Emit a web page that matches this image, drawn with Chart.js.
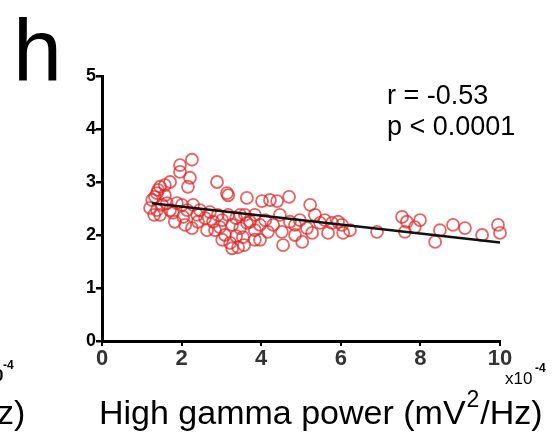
<!DOCTYPE html>
<html><head><meta charset="utf-8">
<script src="https://cdn.jsdelivr.net/npm/chart.js@4.4.1/dist/chart.umd.min.js"></script>
<style>html,body{margin:0;padding:0;background:#fff;}#wrap{width:557px;height:438px;}</style>
</head><body><div id="wrap"><canvas id="c" width="557" height="438"></canvas></div>
<script>
// High gamma power (x10^-4 mV^2/Hz)
const powerX = [1.26,1.33,1.38,1.46,1.38,1.51,1.63,1.71,1.78,1.88,1.96,1.96,2.26,2.21,2.16,2.04,2.29,2.39,2.26,2.89,3.14,3.17,2.64,2.79,2.96,3.09,3.22,3.27,3.42,3.54,3.64,4.02,4.22,4.40,4.70,5.23,3.64,3.84,3.97,4.30,4.52,4.55,4.85,5.03,5.15,5.28,5.48,5.68,5.78,6.03,6.06,6.91,7.54,7.66,7.86,7.99,7.61,8.49,8.37,8.82,9.12,9.55,9.95,10.0,1.21,1.31,1.58,1.71,2.01,2.14,2.46,2.59,2.71,2.91,3.02,3.17,3.27,3.37,3.47,3.59,3.72,3.84,4.10,4.17,4.72,4.85,4.97,3.37,3.02,2.84,2.41,1.46,1.83,2.09,1.58,1.41,3.47,3.97,4.47,3.84,3.57,5.35,6.23,5.93,5.60];
// Y values
const valueY = [2.66,2.72,2.79,2.91,2.47,2.57,2.60,3.00,2.42,2.60,3.32,3.19,3.42,3.08,2.91,2.34,2.57,2.38,2.13,3.00,2.79,2.75,2.09,2.25,2.15,2.00,1.85,1.75,1.77,1.96,2.70,2.64,2.66,2.64,2.72,2.57,2.23,2.09,1.91,2.19,2.06,1.81,2.00,1.87,2.13,2.04,2.23,2.04,2.23,2.19,2.04,2.06,2.34,2.25,2.15,2.28,2.06,2.09,1.87,2.19,2.13,2.00,2.19,2.04,2.51,2.38,2.75,2.47,2.57,2.47,2.47,2.32,2.43,2.38,2.28,2.38,2.19,2.32,2.13,2.38,2.25,2.38,2.28,2.06,2.25,2.19,2.28,1.98,1.91,2.09,2.25,2.38,2.25,2.19,2.94,2.85,2.38,2.19,2.38,1.91,1.81,2.38,2.09,2.25,2.28];
// Regression line endpoints
const fitX = [1.25, 10.0];
const fitY = [2.60, 1.86];
const xTicks = [0, 2, 4, 6, 8, 10];
const yTicks = [0, 1, 2, 3, 4, 5];
const statR = "r = -0.53";
const statP = "p < 0.0001";
const panelLabel = "h";

const pts = powerX.map((x, i) => ({x: x, y: valueY[i]}));
const fit = fitX.map((x, i) => ({x: x, y: fitY[i]}));
const FF = '"Liberation Sans", Arial, sans-serif';

const textPlugin = {
  id: 'texts',
  afterDraw(chart) {
    const ctx = chart.ctx;
    const xs = chart.scales.x;
    ctx.save();
    ctx.fillStyle = '#000';
    ctx.textBaseline = 'alphabetic';
    ctx.textAlign = 'left';
    // panel letter
    ctx.font = '88px ' + FF;
    ctx.fillText(panelLabel, 13, 80);
    // stats
    ctx.font = '27px ' + FF;
    ctx.fillText(statR, 387, 104);
    ctx.fillText(statP, 387, 135);
    // x10^-4
    const xr = xs.right;
    ctx.font = '17px ' + FF;
    ctx.fillText('x10', xr + 5, 384);
    ctx.font = 'bold 12px ' + FF;
    ctx.fillText('-4', xr + 35, 372);
    // x-axis title with superscript
    ctx.font = '34px ' + FF;
    let x0 = 99, yb = 424;
    const part1 = 'High gamma power (mV';
    ctx.fillText(part1, x0, yb);
    let w = ctx.measureText(part1).width;
    ctx.font = '23px ' + FF;
    ctx.fillText('2', x0 + w + 1, yb - 17);
    let w2 = ctx.measureText('2').width;
    ctx.font = '34px ' + FF;
    ctx.fillText('/Hz)', x0 + w + w2 + 2, yb);
    // fragments of neighbouring panel
    ctx.font = 'bold 17px ' + FF;
    ctx.fillText('0', -6, 381);
    ctx.font = 'bold 12px ' + FF;
    ctx.fillText('-4', 3, 369);
    ctx.font = '34px ' + FF;
    ctx.fillText('z)', -3, 424);
    ctx.restore();
  }
};

new Chart(document.getElementById('c'), {
  type: 'scatter',
  data: {
    datasets: [
      {
        data: pts,
        showLine: false,
        pointRadius: 6,
        pointHoverRadius: 6,
        pointBorderWidth: 1.8,
        pointBorderColor: 'rgba(220,40,40,0.72)',
        pointBackgroundColor: 'rgba(255,255,255,0)',
        clip: false,
        order: 2
      },
      {
        data: fit,
        type: 'line',
        showLine: true,
        borderColor: '#111',
        borderWidth: 2.5,
        pointRadius: 0,
        fill: false,
        clip: false,
        order: 1
      }
    ]
  },
  options: {
    responsive: false,
    animation: false,
    events: [],
    layout: {padding: {left: 0, right: 57, top: 76, bottom: 0}},
    plugins: {legend: {display: false}, tooltip: {enabled: false}},
    scales: {
      x: {
        type: 'linear', min: 0, max: 10,
        afterFit(s) { s.height = 97; },
        afterBuildTicks(s) { s.ticks = xTicks.map(v => ({value: v})); },
        border: {display: true, color: '#000', width: 3},
        grid: {display: true, drawOnChartArea: false, drawTicks: true, tickLength: 5, lineWidth: 2, color: '#000'},
        ticks: {color: '#333', padding: 0, maxRotation: 0, font: {family: FF, size: 22, weight: 'bold'}}
      },
      y: {
        type: 'linear', min: 0, max: 5,
        afterFit(s) { s.width = 102; },
        afterBuildTicks(s) { s.ticks = yTicks.map(v => ({value: v})); },
        border: {display: true, color: '#000', width: 3},
        grid: {display: true, drawOnChartArea: false, drawTicks: true, tickLength: 6, lineWidth: 2.5, color: '#000'},
        ticks: {color: '#000', padding: 0, font: {family: FF, size: 18, weight: 'bold'}}
      }
    }
  },
  plugins: [textPlugin]
});
</script>
</body></html>
